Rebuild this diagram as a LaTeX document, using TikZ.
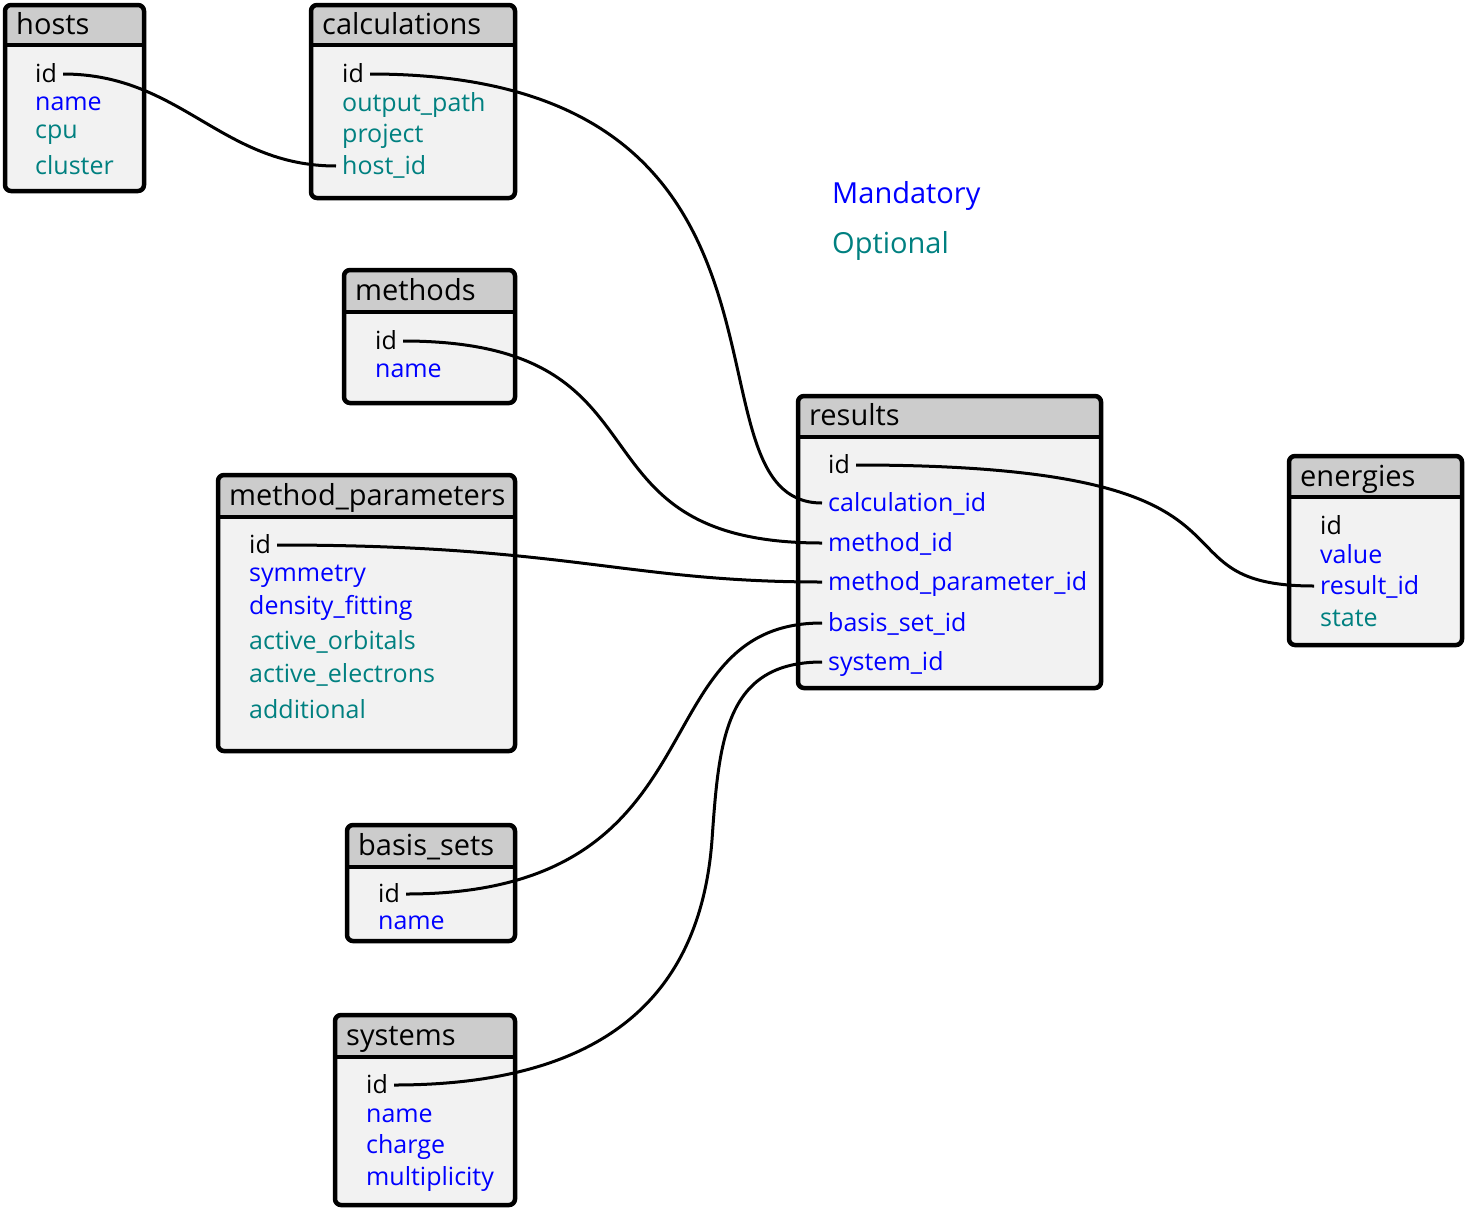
\documentclass[tikz,border=0pt]{standalone}
\usepackage{fontspec}
\setmainfont{Open Sans}
\definecolor{mandc}{RGB}{0,0,255}
\definecolor{optc}{RGB}{0,128,128}
\definecolor{headg}{RGB}{204,204,204}
\definecolor{bodyg}{RGB}{242,242,242}
\newcommand\dbtable[5]{%
  \fill[bodyg, rounded corners=6pt] (#1,#2) rectangle (#3,#4);
  \fill[headg] (#1,#5) [rounded corners=6pt] -- (#1,#2) -- (#3,#2) [sharp corners] -- (#3,#5) -- cycle;
  \draw[line width=4.5pt, rounded corners=6pt] (#1,#2) rectangle (#3,#4);
  \draw[line width=4.5pt] (#1,#5) -- (#3,#5);}
\begin{document}
\begin{tikzpicture}[x=1pt,y=-1pt,
  fld/.style={anchor=west, inner xsep=6pt, inner ysep=0pt, text height=20pt, text depth=4pt, font=\fontsize{25}{29}\selectfont},
  ttl/.style={anchor=west, inner xsep=0pt, inner ysep=0pt, text height=24pt, text depth=4pt, font=\fontsize{29}{33}\selectfont},
  mand/.style={fld, text=mandc},
  opt/.style={fld, text=optc},
  link/.style={line width=3pt}]
\useasboundingbox (0,0) rectangle (1467,1210);

% tables
\dbtable{5}{5}{144}{191}{45}
\dbtable{311}{5}{515}{198}{45}
\dbtable{344}{270}{515}{403}{312}
\dbtable{218}{475}{515}{751}{517}
\dbtable{347}{825}{515}{941}{867}
\dbtable{335}{1015}{515}{1205}{1057}
\dbtable{798}{396}{1101}{688}{437}
\dbtable{1289}{456}{1462}{645}{497}

% hosts
\node[ttl] (hosts) at (16,24) {hosts};
\node[fld] (hosts-id) at (29,74) {id};
\node[mand] (hosts-name) at (29,102) {name};
\node[opt] (hosts-cpu) at (29,130) {cpu};
\node[opt] (hosts-cluster) at (29,166) {cluster};

% calculations
\node[ttl] (calc) at (322,24) {calculations};
\node[fld] (calc-id) at (336,74) {id};
\node[opt] (calc-out) at (336,103) {output\_path};
\node[opt] (calc-proj) at (336,134) {project};
\node[opt] (calc-host) at (336,166) {host\_id};

% methods
\node[ttl] (meth) at (355,290) {methods};
\node[fld] (meth-id) at (369,341) {id};
\node[mand] (meth-name) at (369,369) {name};

% method_parameters
\node[ttl] (mp) at (229,495) {method\_parameters};
\node[fld] (mp-id) at (243,545) {id};
\node[mand] (mp-sym) at (243,573) {symmetry};
\node[mand] (mp-df) at (243,606) {density\_fitting};
\node[opt] (mp-ao) at (243,641) {active\_orbitals};
\node[opt] (mp-ae) at (243,674) {active\_electrons};
\node[opt] (mp-add) at (243,710) {additional};

% basis_sets
\node[ttl] (bs) at (358,845) {basis\_sets};
\node[fld] (bs-id) at (372,894) {id};
\node[mand] (bs-name) at (372,921) {name};

% systems
\node[ttl] (sys) at (346,1035) {systems};
\node[fld] (sys-id) at (360,1085) {id};
\node[mand] (sys-name) at (360,1114) {name};
\node[mand] (sys-charge) at (360,1145) {charge};
\node[mand] (sys-mult) at (360,1177) {multiplicity};

% results
\node[ttl] (res) at (809,415) {results};
\node[fld] (res-id) at (822,465) {id};
\node[mand] (res-calc) at (822,503) {calculation\_id};
\node[mand] (res-meth) at (822,543) {method\_id};
\node[mand] (res-mp) at (822,582) {method\_parameter\_id};
\node[mand] (res-bs) at (822,623) {basis\_set\_id};
\node[mand] (res-sys) at (822,662) {system\_id};

% energies
\node[ttl] (en) at (1300,476) {energies};
\node[fld] (en-id) at (1314,526) {id};
\node[mand] (en-val) at (1314,555) {value};
\node[mand] (en-res) at (1314,586) {result\_id};
\node[opt] (en-state) at (1314,618) {state};

% legend
\node[ttl, text=mandc] (leg-m) at (832,193) {Mandatory};
\node[ttl, text=optc] (leg-o) at (832,243) {Optional};

% links
\coordinate (sysmid) at (712,840);
\draw[link] (hosts-id.east) .. controls (181,74) and (221,166) .. (calc-host.west);
\draw[link] (calc-id.east) .. controls (842,74) and (671,503) .. (res-calc.west);
\draw[link] (meth-id.east) .. controls (684,341) and (556,543) .. (res-meth.west);
\draw[link] (mp-id.east) .. controls (568,545) and (626,582) .. (res-mp.west);
\draw[link] (bs-id.east) .. controls (728,894) and (636,623) .. (res-bs.west);
\draw[link] (sys-id.east) .. controls (600,1085) and (700,1000) .. (sysmid)
  .. controls (719,740) and (725,662) .. (res-sys.west);
\draw[link] (res-id.east) .. controls (1299,465) and (1137,586) .. (en-res.west);
\end{tikzpicture}
\end{document}
